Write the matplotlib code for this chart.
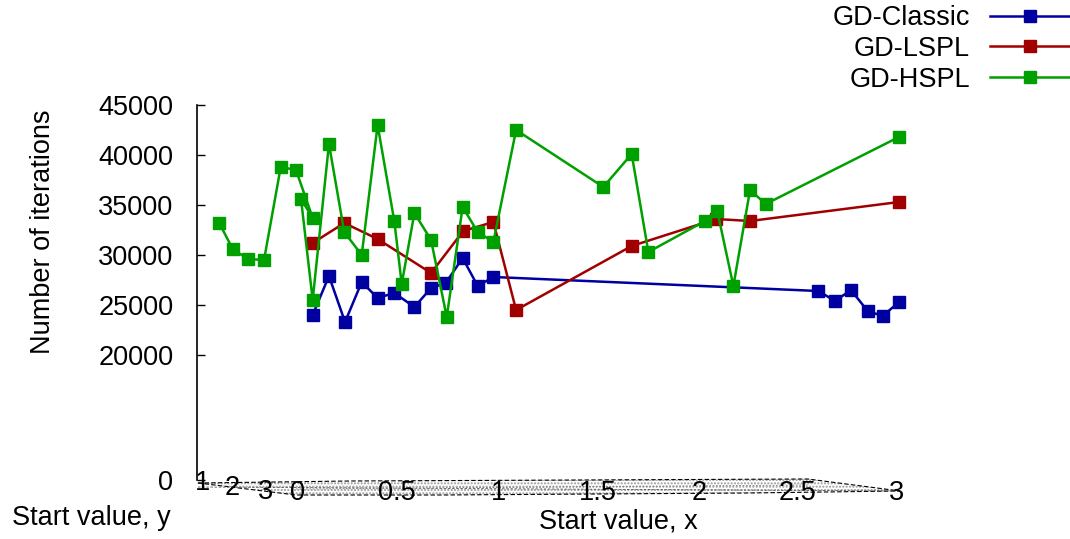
import matplotlib
matplotlib.use('Agg')
import matplotlib.pyplot as plt

plt.rcParams['font.family'] = ['Liberation Sans', 'DejaVu Sans']

# projected position along the start-value axes (x units, y-axis part is left of 0)
classic_pos = [0.083, 0.164, 0.244, 0.327, 0.406, 0.489, 0.589, 0.672, 0.745,
               0.829, 0.904, 0.982, 2.599, 2.682, 2.761, 2.844, 2.919, 3.0]
classic_it = [24000, 27900, 23300, 27300, 25700, 26200, 24800, 26700, 27200,
              29700, 26900, 27800, 26400, 25400, 26500, 24400, 23900, 25300]

lspl_pos = [0.083, 0.240, 0.406, 0.672, 0.832, 0.982, 1.095, 1.670, 2.090, 2.259, 3.0]
lspl_it = [31200, 33200, 31600, 28200, 32400, 33300, 24500, 30900, 33600, 33400, 35300]

hspl_pos = [-0.382, -0.315, -0.240, -0.159, -0.076, 0.0, 0.083, 0.025, 0.083,
            0.164, 0.240, 0.327, 0.406, 0.489, 0.526, 0.589, 0.672, 0.750,
            0.829, 0.904, 0.982, 1.095, 1.529, 1.670, 1.753, 2.035, 2.096,
            2.176, 2.259, 2.337, 3.0]
hspl_it = [33200, 30600, 29600, 29500, 38800, 38500, 33700, 35600, 25500,
           41100, 32300, 30000, 43000, 33400, 27100, 34200, 31500, 23800,
           34800, 32300, 31300, 42500, 36800, 40100, 30300, 33400, 34400,
           26900, 36500, 35100, 41800]

z_ticks = [7500, 20000, 25000, 30000, 35000, 40000, 45000]
z_labels = ['0', '20000', '25000', '30000', '35000', '40000', '45000']

x_tick_labels = ['0', '0.5', '1', '1.5', '2', '2.5', '3']
x_tick_pos = [0.005, 0.502, 1.005, 1.5, 2.005, 2.493, 2.99]
y_tick_labels = ['1', '2', '3']
y_tick_pos = [-0.463, -0.318, -0.154]
y_tick_z = [7200, 6700, 6300]

# base plane outline (seen almost edge-on)
base_top_u = [-0.488, 0.270, 2.547, 3.005]
base_top_z = [7200, 7400, 7600, 6400]
base_bot_u = [-0.488, 0.0, 0.730, 2.249, 3.005]
base_bot_z = [7200, 6000, 6000, 6200, 6400]

fig = plt.figure(figsize=(10.7, 5.39), dpi=100)
ax = fig.add_axes([0, 0, 1, 1])
ax.set_xlim(-296 / 201, (1070 - 296) / 201)
ax.set_ylim(20000 - 184 * 100, 20000 + 355 * 100)
ax.patch.set_alpha(0)

for s in ['top', 'right', 'bottom']:
    ax.spines[s].set_visible(False)
ax.spines['left'].set_position(('data', -0.4925))
ax.spines['left'].set_bounds(7500, 45000)
ax.spines['left'].set_linewidth(1.2)
ax.set_xticks([])
ax.set_yticks(z_ticks)
ax.set_yticklabels(z_labels)
ax.tick_params(axis='y', direction='in', length=6, width=1, pad=17, labelsize=19.5)

# base plane
ax.fill(base_top_u + base_bot_u[::-1], base_top_z + base_bot_z[::-1],
        facecolor='none', edgecolor='#999999', hatch='.....', lw=0)
ax.plot(base_top_u, base_top_z, color='black', lw=0.8, ls=(0, (4, 2)))
ax.plot(base_bot_u, base_bot_z, color='black', lw=0.8, ls=(0, (4, 2)))
ax.plot([-0.488, 3.005], [6800, 6400], color='#555555', lw=0.6, ls=(0, (3, 2)))
ax.plot([0.0, 2.55], [6600, 7000], color='#777777', lw=0.6, ls=(0, (2, 2)))

for lab, u in zip(x_tick_labels, x_tick_pos):
    ax.text(u, 6250, lab, ha='center', va='center', fontsize=19.5)
for lab, u, z in zip(y_tick_labels, y_tick_pos, y_tick_z):
    ax.text(u, z, lab, ha='center', va='center', fontsize=19.5)

l1, = ax.plot(classic_pos, classic_it, color='#0000a0', lw=1.8,
              marker='s', markersize=8, label='GD-Classic')
l2, = ax.plot(lspl_pos, lspl_it, color='#a00000', lw=1.8,
              marker='s', markersize=8, label='GD-LSPL')
l3, = ax.plot(hspl_pos, hspl_it, color='#00a000', lw=1.8,
              marker='s', markersize=8, label='GD-HSPL')

fig.legend(handles=[l1, l2, l3], loc='upper right', bbox_to_anchor=(1.0, 1 - 5 / 539),
           frameon=False, markerfirst=False, fontsize=19.5, handlelength=2.95,
           handletextpad=0.74, borderpad=0, borderaxespad=0, labelspacing=0.18,
           markerscale=1.0)

fig.text(43 / 1070, 1 - 232 / 539, 'Number of iterations', rotation=90,
         ha='center', va='center', fontsize=19.5)
fig.text(12 / 1070, 1 - 518 / 539, 'Start value, y', ha='left', va='center', fontsize=19.5)
fig.text(618 / 1070, 1 - 522 / 539, 'Start value, x', ha='center', va='center', fontsize=19.5)

fig.savefig('out.png', dpi=100)
